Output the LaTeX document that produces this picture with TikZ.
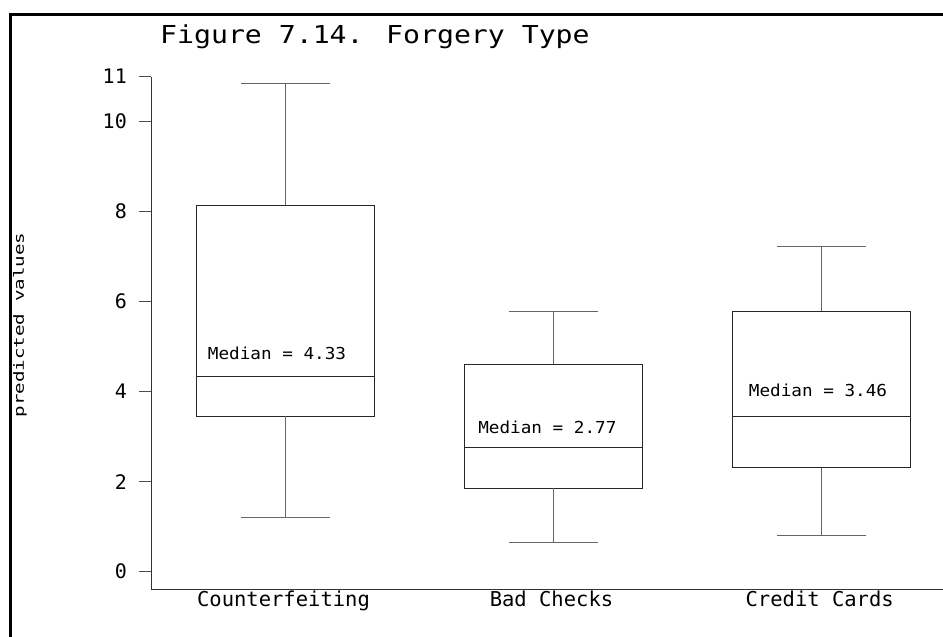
\documentclass[tikz,border=0pt]{standalone}
\usepackage{fontspec}
\newfontfamily\titlefont[FakeStretch=1.14]{DejaVu Sans Mono}
\newfontfamily\axisfont[FakeStretch=1.0]{DejaVu Sans Mono}
\newfontfamily\medfont[FakeStretch=1.07]{DejaVu Sans Mono}
\newfontfamily\ylabfont[FakeStretch=1.37]{DejaVu Sans Mono}

\begin{document}
\begin{tikzpicture}[x=1pt,y=1pt,
  frameline/.style={line width=2.5pt,black},
  axisline/.style={line width=0.9pt,black!80},
  tickline/.style={line width=0.9pt,black!70},
  boxline/.style={line width=0.9pt,black!85},
  whisker/.style={line width=0.9pt,black!60},
  titletext/.style={anchor=base west,inner sep=0pt,font=\titlefont\fontsize{24.7}{26}\selectfont},
  ticklabel/.style={anchor=east,inner sep=0pt,font=\axisfont\fontsize{20}{22}\selectfont},
  catlabel/.style={anchor=base,inner sep=0pt,font=\axisfont\fontsize{20.5}{22}\selectfont},
  medlabel/.style={anchor=center,inner sep=0pt,font=\medfont\fontsize{16.5}{18}\selectfont},
  ylabel/.style={anchor=center,inner sep=0pt,rotate=90,font=\ylabfont\fontsize{14}{16}\selectfont}]
\useasboundingbox (0,0) rectangle (943,637);
\clip (0,0) rectangle (943,637);

% Frame
\draw[frameline] (10.5,-10) -- (10.5,622.5) -- (960,622.5);

% Title
\node[titletext] (title) at (160,593.7) {Figure 7.14. Forgery Type};

% Y label
\node[ylabel] (ylab) at (20,312) {predicted values};

\begin{scope}[yshift=65.3pt,y=45pt]
% Axes
\draw[axisline] (151,11) -- (151,-0.384) -- (943,-0.384);

% Ticks
\foreach \v in {0,2,4,6,8,10,11} {
  \draw[tickline] (139,\v) -- (151,\v);
  \node[ticklabel] (tick\v) at (127,\v) {\v};
}

% Boxes
\foreach \name/\cx/\lo/\qa/\md/\qb/\hi/\lx/\ly/\cat in {
    cf/285.5/1.20/3.46/4.33/8.13/10.85/277/4.85/Counterfeiting,
    bc/553.5/0.65/1.85/2.77/4.61/5.78/547.4/3.20/Bad Checks,
    cc/821.7/0.80/2.31/3.46/5.79/7.22/818/4.03/Credit Cards} {
  \draw[whisker] (\cx-44.5,\hi) -- (\cx+44.5,\hi);
  \draw[whisker] (\cx,\hi) -- (\cx,\qb);
  \draw[boxline] (\cx-89,\qa) rectangle (\cx+89,\qb);
  \draw[boxline] (\cx-89,\md) -- (\cx+89,\md);
  \draw[whisker] (\cx,\qa) -- (\cx,\lo);
  \draw[whisker] (\cx-44.5,\lo) -- (\cx+44.5,\lo);
  \node[medlabel] (med-\name) at (\lx,\ly) {Median = \md};
  \node[catlabel] (cat-\name) at (\cx-2,-0.778) {\cat};
}
\end{scope}
\end{tikzpicture}
\end{document}
